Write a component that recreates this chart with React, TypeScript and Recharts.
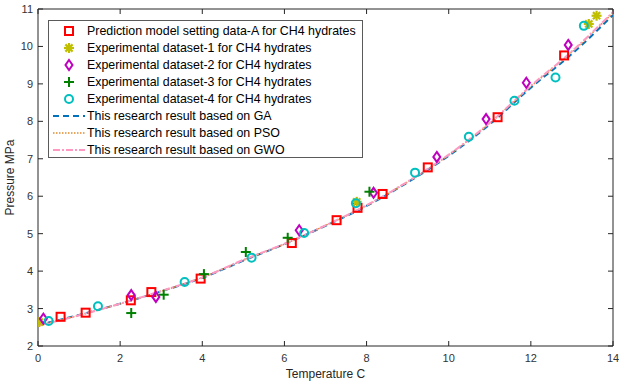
import React from 'react';
import {
  ComposedChart,
  Scatter,
  Line,
  XAxis,
  YAxis,
  ReferenceArea,
} from 'recharts';

// prediction model setting data-A (T in C, P in MPa)
const modelT = [0.55, 1.16, 2.26, 2.76, 3.96, 6.18, 7.27, 7.78, 8.39, 9.49, 11.19, 12.81];
const modelP = [2.78, 2.89, 3.22, 3.44, 3.8, 4.75, 5.36, 5.69, 6.06, 6.77, 8.11, 9.76];

const set1T = [0.03, 7.76, 13.41, 13.6];
const set1P = [2.64, 5.85, 10.6, 10.82];

const set2T = [0.13, 2.27, 2.87, 6.36, 8.17, 9.71, 10.91, 11.89, 12.91];
const set2P = [2.73, 3.36, 3.31, 5.09, 6.09, 7.05, 8.06, 9.03, 10.04];

const set3T = [2.27, 3.06, 4.04, 5.06, 6.08, 8.07];
const set3P = [2.88, 3.37, 3.92, 4.51, 4.89, 6.12];

const set4T = [0.26, 1.46, 3.57, 5.2, 6.48, 7.74, 9.18, 10.49, 11.6, 12.6, 13.29];
const set4P = [2.67, 3.06, 3.71, 4.36, 5.02, 5.81, 6.63, 7.59, 8.55, 9.17, 10.55];

// fitted curves
const curveT = [0, 1, 2, 3, 4, 5, 6, 7, 8, 9, 10, 11, 12, 13, 14];
const gaP = [2.56, 2.83, 3.13, 3.46, 3.82, 4.28, 4.72, 5.21, 5.74, 6.37, 7.08, 7.92, 8.9, 9.8, 10.84];
const psoP = [2.55, 2.82, 3.13, 3.46, 3.83, 4.29, 4.72, 5.22, 5.75, 6.38, 7.1, 7.95, 8.93, 9.85, 10.9];
const gwoP = [2.54, 2.82, 3.13, 3.47, 3.83, 4.3, 4.73, 5.22, 5.76, 6.39, 7.11, 7.96, 8.95, 9.87, 10.92];

const xTicks = [0, 2, 4, 6, 8, 10, 12, 14];
const yTicks = [2, 3, 4, 5, 6, 7, 8, 9, 10, 11];

const legendLabels = [
  'Prediction model setting data-A for CH4 hydrates',
  'Experimental dataset-1 for CH4 hydrates',
  'Experimental dataset-2 for CH4 hydrates',
  'Experimental dataset-3 for CH4 hydrates',
  'Experimental dataset-4 for CH4 hydrates',
  'This research result based on GA',
  'This research result based on PSO',
  'This research result based on GWO',
];

const zip = (xs: number[], ys: number[]) => xs.map((x, i) => ({ x, y: ys[i] }));

const W = 619;
const H = 385;
const M = { top: 9, right: 6, left: 0, bottom: 14 };
const Y_W = 38;
const X_H = 25;
const PLOT_TOP = M.top;
const PLOT_BOTTOM = H - M.bottom - X_H;
const PLOT_LEFT = M.left + Y_W;
const PLOT_RIGHT = W - M.right;

const AXIS = '#262626';
const FONT = '"Liberation Sans", Arial, sans-serif';

const C_RED = '#FF0000';
const C_YEL = '#BFBF00';
const C_MAG = '#BF00BF';
const C_GRN = '#008000';
const C_CYN = '#00BFBF';
const C_GA = '#0072BD';
const C_PSO = '#E08A2E';
const C_GWO = '#FF99C2';

const SquareMark = ({ cx, cy }: any) => (
  <rect x={cx - 4} y={cy - 4} width={8} height={8} fill="none" stroke={C_RED} strokeWidth={2} />
);
const StarMark = ({ cx, cy }: any) => (
  <g stroke={C_YEL} strokeWidth={2.2}>
    <line x1={cx - 5} y1={cy} x2={cx + 5} y2={cy} />
    <line x1={cx} y1={cy - 5} x2={cx} y2={cy + 5} />
    <line x1={cx - 3.6} y1={cy - 3.6} x2={cx + 3.6} y2={cy + 3.6} />
    <line x1={cx - 3.6} y1={cy + 3.6} x2={cx + 3.6} y2={cy - 3.6} />
  </g>
);
const DiamondMark = ({ cx, cy }: any) => (
  <polygon
    points={`${cx},${cy - 5} ${cx + 3.5},${cy} ${cx},${cy + 5} ${cx - 3.5},${cy}`}
    fill="none"
    stroke={C_MAG}
    strokeWidth={2}
  />
);
const PlusMark = ({ cx, cy }: any) => (
  <g stroke={C_GRN} strokeWidth={2}>
    <line x1={cx - 5} y1={cy} x2={cx + 5} y2={cy} />
    <line x1={cx} y1={cy - 5} x2={cx} y2={cy + 5} />
  </g>
);
const CircleMark = ({ cx, cy }: any) => (
  <circle cx={cx} cy={cy} r={4} fill="none" stroke={C_CYN} strokeWidth={2} />
);

const XTick = ({ x, payload }: any) => (
  <g>
    <line x1={x} y1={PLOT_BOTTOM} x2={x} y2={PLOT_BOTTOM - 5} stroke={AXIS} />
    <line x1={x} y1={PLOT_TOP} x2={x} y2={PLOT_TOP + 5} stroke={AXIS} />
    <text x={x} y={PLOT_BOTTOM + 16} textAnchor="middle" fontSize={11} fill="#333" fontFamily={FONT}>
      {payload.value}
    </text>
  </g>
);

const YTick = ({ y, payload }: any) => (
  <g>
    <line x1={PLOT_LEFT} y1={y} x2={PLOT_LEFT + 5} y2={y} stroke={AXIS} />
    <line x1={PLOT_RIGHT} y1={y} x2={PLOT_RIGHT - 5} y2={y} stroke={AXIS} />
    <text x={PLOT_LEFT - 5} y={y + 4} textAnchor="end" fontSize={11} fill="#333" fontFamily={FONT}>
      {payload.value}
    </text>
  </g>
);

const swatch = (i: number) => {
  const c = 11;
  switch (i) {
    case 0:
      return <SquareMark cx={20} cy={c} />;
    case 1:
      return <StarMark cx={20} cy={c} />;
    case 2:
      return <DiamondMark cx={20} cy={c} />;
    case 3:
      return <PlusMark cx={20} cy={c} />;
    case 4:
      return <CircleMark cx={20} cy={c} />;
    case 5:
      return <line x1={4} y1={c} x2={36} y2={c} stroke={C_GA} strokeWidth={2} strokeDasharray="6 4" />;
    case 6:
      return <line x1={4} y1={c} x2={36} y2={c} stroke={C_PSO} strokeWidth={1.5} strokeDasharray="1.5 1.5" />;
    default:
      return <line x1={4} y1={c} x2={36} y2={c} stroke={C_GWO} strokeWidth={2} strokeDasharray="7 2 2 2" />;
  }
};

const LegendBox = () => (
  <div
    style={{
      position: 'absolute',
      left: 48,
      top: 20,
      width: 315,
      height: 138,
      border: '1px solid #5a5a5a',
      background: '#fff',
      boxSizing: 'border-box',
      paddingTop: 2,
      fontFamily: FONT,
      fontSize: 12.4,
      color: '#000',
    }}
  >
    {legendLabels.map((label, i) => (
      <div key={label} style={{ display: 'flex', alignItems: 'center', height: 16.9 }}>
        <svg width={38} height={22} style={{ flex: 'none' }}>
          {swatch(i)}
        </svg>
        <span style={{ whiteSpace: 'nowrap' }}>{label}</span>
      </div>
    ))}
  </div>
);

const YTitle = ({ viewBox }: any) => {
  const cy = viewBox.y + viewBox.height / 2;
  return (
    <text
      x={14}
      y={cy}
      transform={`rotate(-90 14 ${cy})`}
      textAnchor="middle"
      fontSize={12}
      fill="#262626"
      fontFamily={FONT}
    >
      Pressure MPa
    </text>
  );
};

const XTitle = ({ viewBox }: any) => (
  <text
    x={viewBox.x + viewBox.width / 2}
    y={PLOT_BOTTOM + 32}
    textAnchor="middle"
    fontSize={12}
    fill="#262626"
    fontFamily={FONT}
  >
    Temperature C
  </text>
);

export default function App() {
  return (
    <div style={{ position: 'absolute', left: 0, top: 0, width: W, height: H, background: '#fff' }}>
      <ComposedChart width={W} height={H} margin={M}>
        <XAxis
          dataKey="x"
          type="number"
          domain={[0, 14]}
          ticks={xTicks}
          interval={0}
          allowDataOverflow
          height={X_H}
          tickLine={false}
          axisLine={false}
          tick={<XTick />}
          label={{ content: <XTitle /> }}
        />
        <YAxis
          type="number"
          domain={[2, 11]}
          ticks={yTicks}
          interval={0}
          allowDataOverflow
          width={Y_W}
          tickLine={false}
          axisLine={false}
          tick={<YTick />}
          label={{ content: <YTitle /> }}
        />
        <ReferenceArea x1={0} x2={14} y1={2} y2={11} fill="none" stroke={AXIS} strokeWidth={1} ifOverflow="visible" />
        <Scatter data={zip(modelT, modelP)} dataKey="y" shape={<SquareMark />} isAnimationActive={false} />
        <Scatter data={zip(set1T, set1P)} dataKey="y" shape={<StarMark />} isAnimationActive={false} />
        <Scatter data={zip(set2T, set2P)} dataKey="y" shape={<DiamondMark />} isAnimationActive={false} />
        <Scatter data={zip(set3T, set3P)} dataKey="y" shape={<PlusMark />} isAnimationActive={false} />
        <Scatter data={zip(set4T, set4P)} dataKey="y" shape={<CircleMark />} isAnimationActive={false} />
        <Line
          data={zip(curveT, gaP)}
          dataKey="y"
          type="monotone"
          stroke={C_GA}
          strokeWidth={2}
          strokeDasharray="6 4"
          dot={false}
          isAnimationActive={false}
        />
        <Line
          data={zip(curveT, psoP)}
          dataKey="y"
          type="monotone"
          stroke={C_PSO}
          strokeWidth={1.5}
          strokeDasharray="1.5 1.5"
          dot={false}
          isAnimationActive={false}
        />
        <Line
          data={zip(curveT, gwoP)}
          dataKey="y"
          type="monotone"
          stroke={C_GWO}
          strokeWidth={2}
          strokeDasharray="7 2 2 2"
          dot={false}
          isAnimationActive={false}
        />
      </ComposedChart>
      <LegendBox />
    </div>
  );
}
